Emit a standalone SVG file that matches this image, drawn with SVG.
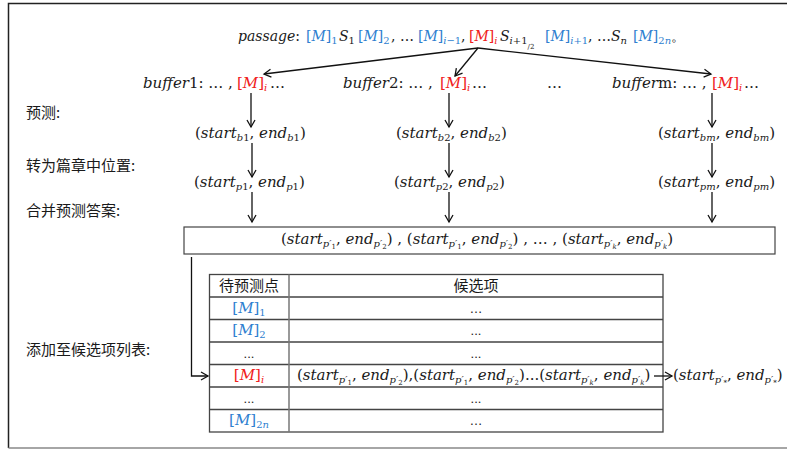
<svg xmlns="http://www.w3.org/2000/svg" width="787" height="450" viewBox="0 0 787 450">
  <defs>
    <marker id="arr" markerWidth="10" markerHeight="10" refX="8" refY="5" orient="auto" markerUnits="userSpaceOnUse">
      <path d="M1,1 L8,5 L1,9" fill="none" stroke="#111" stroke-width="1.3"/>
    </marker>
    <style>
      .m { font-family: "DejaVu Serif", "Liberation Serif", serif; font-size: 15px; font-style: italic; fill: #1a1a1a; }
      .m.sm { font-size: 14px; }
      .up { font-style: normal; }
      .s { font-size: 10px; }
      .ss { font-size: 7px; }
      .b { fill: #2f7fd0; }
      .r { fill: #f02020; }
      .cn { font-family: "Noto Sans CJK SC", "Noto Sans", sans-serif; font-size: 15px; fill: #1a1a1a; }
      .ln { stroke: #111; stroke-width: 1.3; fill: none; }
      .frame { stroke: #222; stroke-width: 1.5; fill: none; }
      .tb { stroke: #444; stroke-width: 1.3; fill: none; }
      .tc { font-family: "Liberation Sans", sans-serif; font-size: 13px; fill: #1a1a1a; text-anchor: middle; }
    </style>
  </defs>

  <rect width="787" height="450" fill="#fff"/>

  <!-- outer frame -->
  <path class="frame" d="M8.5,448 V3.5 H787"/>
  <path d="M8.5,448 H787" stroke="#888" stroke-width="1.5"/>

  <!-- passage line -->
  <g id="passage">
    <text class="m sm" y="41">
      <tspan x="238">passage</tspan><tspan class="up">:</tspan>
      <tspan x="306" class="b up">[</tspan><tspan class="b">M</tspan><tspan class="b up">]</tspan><tspan class="s b up" dy="3">1</tspan>
      <tspan x="339" dy="-3">S</tspan><tspan class="s up" dy="3">1</tspan>
      <tspan x="358" dy="-3" class="b up">[</tspan><tspan class="b">M</tspan><tspan class="b up">]</tspan><tspan class="s b up" dy="3">2</tspan>
      <tspan x="391" dy="-3" class="up">, …</tspan>
      <tspan x="418" class="b up">[</tspan><tspan class="b">M</tspan><tspan class="b up">]</tspan><tspan class="s b" dy="3">i</tspan><tspan class="s b up">−1</tspan>
      <tspan x="461" dy="-3" class="up">,</tspan>
      <tspan x="469" class="r up">[</tspan><tspan class="r">M</tspan><tspan class="r up">]</tspan><tspan class="s r" dy="3">i</tspan>
      <tspan x="500" dy="-3">S</tspan><tspan class="s" dy="3">i</tspan><tspan class="s up">+1</tspan><tspan class="ss up" dy="5">/2</tspan>
      <tspan x="545" dy="-8" class="b up">[</tspan><tspan class="b">M</tspan><tspan class="b up">]</tspan><tspan class="s b" dy="3">i</tspan><tspan class="s b up">+1</tspan>
      <tspan x="588" dy="-3" class="up">, …</tspan><tspan>S</tspan><tspan class="s" dy="3">n</tspan>
      <tspan x="633" dy="-3" class="b up">[</tspan><tspan class="b">M</tspan><tspan class="b up">]</tspan><tspan class="s b up" dy="3">2</tspan><tspan class="s b">n</tspan>
      <tspan x="671" dy="-3" class="up">。</tspan>
    </text>
  </g>

  <!-- buffers -->
  <g id="buffer1">
    <text class="m" y="88"><tspan x="143">buffer</tspan><tspan class="up">1: … ,</tspan><tspan x="237" class="r up">[</tspan><tspan class="r">M</tspan><tspan class="r up">]</tspan><tspan class="s r" dy="3">i</tspan><tspan x="270" dy="-3" class="up">…</tspan></text>
  </g>
  <g id="buffer2">
    <text class="m" y="88"><tspan x="343">buffer</tspan><tspan class="up">2: … ,</tspan><tspan x="440" class="r up">[</tspan><tspan class="r">M</tspan><tspan class="r up">]</tspan><tspan class="s r" dy="3">i</tspan><tspan x="472" dy="-3" class="up">…</tspan></text>
  </g>
  <g id="buffer-gap">
    <text class="m up" x="547" y="88">…</text>
  </g>
  <g id="bufferm">
    <text class="m" y="88"><tspan x="612">buffer</tspan><tspan class="up">m: … ,</tspan><tspan x="712" class="r up">[</tspan><tspan class="r">M</tspan><tspan class="r up">]</tspan><tspan class="s r" dy="3">i</tspan><tspan x="744" dy="-3" class="up">…</tspan></text>
  </g>

  <!-- step labels -->
  <g id="labels">
    <text class="cn" x="26" y="118">预测:</text>
    <text class="cn" x="26" y="171">转为篇章中位置:</text>
    <text class="cn" x="26" y="216">合并预测答案:</text>
    <text class="cn" x="26" y="355">添加至候选项列表:</text>
  </g>

  <!-- predicted spans per buffer -->
  <g id="pred-b1"><text class="m" y="138"><tspan x="195" class="up">(</tspan><tspan>start</tspan><tspan class="s" dy="3">b</tspan><tspan class="s up">1</tspan><tspan dy="-3" class="up">, </tspan><tspan>end</tspan><tspan class="s" dy="3">b</tspan><tspan class="s up">1</tspan><tspan dy="-3" class="up">)</tspan></text></g>
  <g id="pred-b2"><text class="m" y="138"><tspan x="396" class="up">(</tspan><tspan>start</tspan><tspan class="s" dy="3">b</tspan><tspan class="s up">2</tspan><tspan dy="-3" class="up">, </tspan><tspan>end</tspan><tspan class="s" dy="3">b</tspan><tspan class="s up">2</tspan><tspan dy="-3" class="up">)</tspan></text></g>
  <g id="pred-bm"><text class="m" y="138"><tspan x="658" class="up">(</tspan><tspan>start</tspan><tspan class="s" dy="3">bm</tspan><tspan dy="-3" class="up">, </tspan><tspan>end</tspan><tspan class="s" dy="3">bm</tspan><tspan dy="-3" class="up">)</tspan></text></g>

  <g id="pos-p1"><text class="m" y="187"><tspan x="194" class="up">(</tspan><tspan>start</tspan><tspan class="s" dy="3">p</tspan><tspan class="s up">1</tspan><tspan dy="-3" class="up">, </tspan><tspan>end</tspan><tspan class="s" dy="3">p</tspan><tspan class="s up">1</tspan><tspan dy="-3" class="up">)</tspan></text></g>
  <g id="pos-p2"><text class="m" y="187"><tspan x="394" class="up">(</tspan><tspan>start</tspan><tspan class="s" dy="3">p</tspan><tspan class="s up">2</tspan><tspan dy="-3" class="up">, </tspan><tspan>end</tspan><tspan class="s" dy="3">p</tspan><tspan class="s up">2</tspan><tspan dy="-3" class="up">)</tspan></text></g>
  <g id="pos-pm"><text class="m" y="187"><tspan x="658" class="up">(</tspan><tspan>start</tspan><tspan class="s" dy="3">pm</tspan><tspan dy="-3" class="up">, </tspan><tspan>end</tspan><tspan class="s" dy="3">pm</tspan><tspan dy="-3" class="up">)</tspan></text></g>

  <!-- merged answers box -->
  <g id="merged">
    <rect x="184" y="227" width="591" height="27" fill="#fff" stroke="#444" stroke-width="1.2"/>
    <text class="m" y="244"><tspan x="281" class="up">(</tspan><tspan>start</tspan><tspan class="s" dy="3">p′</tspan><tspan class="ss up" dy="2">1</tspan><tspan dy="-5" class="up">, </tspan><tspan>end</tspan><tspan class="s" dy="3">p′</tspan><tspan class="ss up" dy="2">2</tspan><tspan dy="-5" class="up">) , (</tspan><tspan>start</tspan><tspan class="s" dy="3">p′</tspan><tspan class="ss up" dy="2">1</tspan><tspan dy="-5" class="up">, </tspan><tspan>end</tspan><tspan class="s" dy="3">p′</tspan><tspan class="ss up" dy="2">2</tspan><tspan dy="-5" class="up">) , … , (</tspan><tspan>start</tspan><tspan class="s" dy="3">p′</tspan><tspan class="ss" dy="2">k</tspan><tspan dy="-5" class="up">, </tspan><tspan>end</tspan><tspan class="s" dy="3">p′</tspan><tspan class="ss" dy="2">k</tspan><tspan dy="-5" class="up">)</tspan></text>
  </g>

  <!-- candidate table -->
  <g id="table">
    <rect x="209.5" y="274.5" width="453.5" height="157.5" fill="#fff" class="tb"/>
    <path class="tb" d="M209.5,297 H663 M209.5,319.5 H663 M209.5,342 H663 M209.5,364.5 H663 M209.5,387 H663 M209.5,409.5 H663"/>
    <path d="M289,274.5 V432" stroke="#777" stroke-width="1.5"/>
    <text class="cn" x="249" y="291" text-anchor="middle">待预测点</text>
    <text class="cn" x="476" y="291" text-anchor="middle">候选项</text>

    <text class="m" x="249" y="313" text-anchor="middle"><tspan class="b up">[</tspan><tspan class="b">M</tspan><tspan class="b up">]</tspan><tspan class="s b up" dy="3">1</tspan></text>
    <text class="m" x="249" y="335" text-anchor="middle"><tspan class="b up">[</tspan><tspan class="b">M</tspan><tspan class="b up">]</tspan><tspan class="s b up" dy="3">2</tspan></text>
    <text class="tc" x="249" y="358">...</text>
    <text class="m" x="249" y="380" text-anchor="middle"><tspan class="r up">[</tspan><tspan class="r">M</tspan><tspan class="r up">]</tspan><tspan class="s r" dy="3">i</tspan></text>
    <text class="tc" x="249" y="403">...</text>
    <text class="m" x="249" y="425" text-anchor="middle"><tspan class="b up">[</tspan><tspan class="b">M</tspan><tspan class="b up">]</tspan><tspan class="s b up" dy="3">2</tspan><tspan class="s b">n</tspan></text>

    <text class="tc" x="476" y="313">…</text>
    <text class="tc" x="476" y="335">...</text>
    <text class="tc" x="476" y="358">...</text>
    <text class="m" y="380"><tspan x="297" class="up">(</tspan><tspan>start</tspan><tspan class="s" dy="3">p′</tspan><tspan class="ss up" dy="2">1</tspan><tspan dy="-5" class="up">, </tspan><tspan>end</tspan><tspan class="s" dy="3">p′</tspan><tspan class="ss up" dy="2">2</tspan><tspan dy="-5" class="up">),(</tspan><tspan>start</tspan><tspan class="s" dy="3">p′</tspan><tspan class="ss up" dy="2">1</tspan><tspan dy="-5" class="up">, </tspan><tspan>end</tspan><tspan class="s" dy="3">p′</tspan><tspan class="ss up" dy="2">2</tspan><tspan dy="-5" class="up">)...(</tspan><tspan>start</tspan><tspan class="s" dy="3">p′</tspan><tspan class="ss" dy="2">k</tspan><tspan dy="-5" class="up">, </tspan><tspan>end</tspan><tspan class="s" dy="3">p′</tspan><tspan class="ss" dy="2">k</tspan><tspan dy="-5" class="up">)</tspan></text>
    <text class="tc" x="476" y="403">...</text>
    <text class="tc" x="476" y="425">…</text>
  </g>

  <!-- selected answer -->
  <g id="selected">
    <text class="m" y="380"><tspan x="673" class="up">(</tspan><tspan>start</tspan><tspan class="s" dy="3">p′</tspan><tspan class="ss up" dy="2">*</tspan><tspan dy="-5" class="up">, </tspan><tspan>end</tspan><tspan class="s" dy="3">p′</tspan><tspan class="ss up" dy="2">*</tspan><tspan dy="-5" class="up">)</tspan></text>
  </g>

  <!-- connectors -->
  <g id="connectors">
    <path class="ln" d="M478,48 L264,74" marker-end="url(#arr)"/>
    <path class="ln" d="M478,48 L455,76" marker-end="url(#arr)"/>
    <path class="ln" d="M478,48 L711,74" marker-end="url(#arr)"/>

    <path class="ln" d="M251,93 V127" marker-end="url(#arr)"/>
    <path class="ln" d="M252,143 V177" marker-end="url(#arr)"/>
    <path class="ln" d="M252,192 V222" marker-end="url(#arr)"/>

    <path class="ln" d="M449,93 V127" marker-end="url(#arr)"/>
    <path class="ln" d="M449,143 V177" marker-end="url(#arr)"/>
    <path class="ln" d="M449,192 V222" marker-end="url(#arr)"/>

    <path class="ln" d="M712,93 V127" marker-end="url(#arr)"/>
    <path class="ln" d="M712,143 V177" marker-end="url(#arr)"/>
    <path class="ln" d="M712,192 V222" marker-end="url(#arr)"/>

    <path class="ln" d="M191.5,257 V376 H208" marker-end="url(#arr)"/>
    <path class="ln" d="M654,376 H672" marker-end="url(#arr)"/>
  </g>
</svg>
